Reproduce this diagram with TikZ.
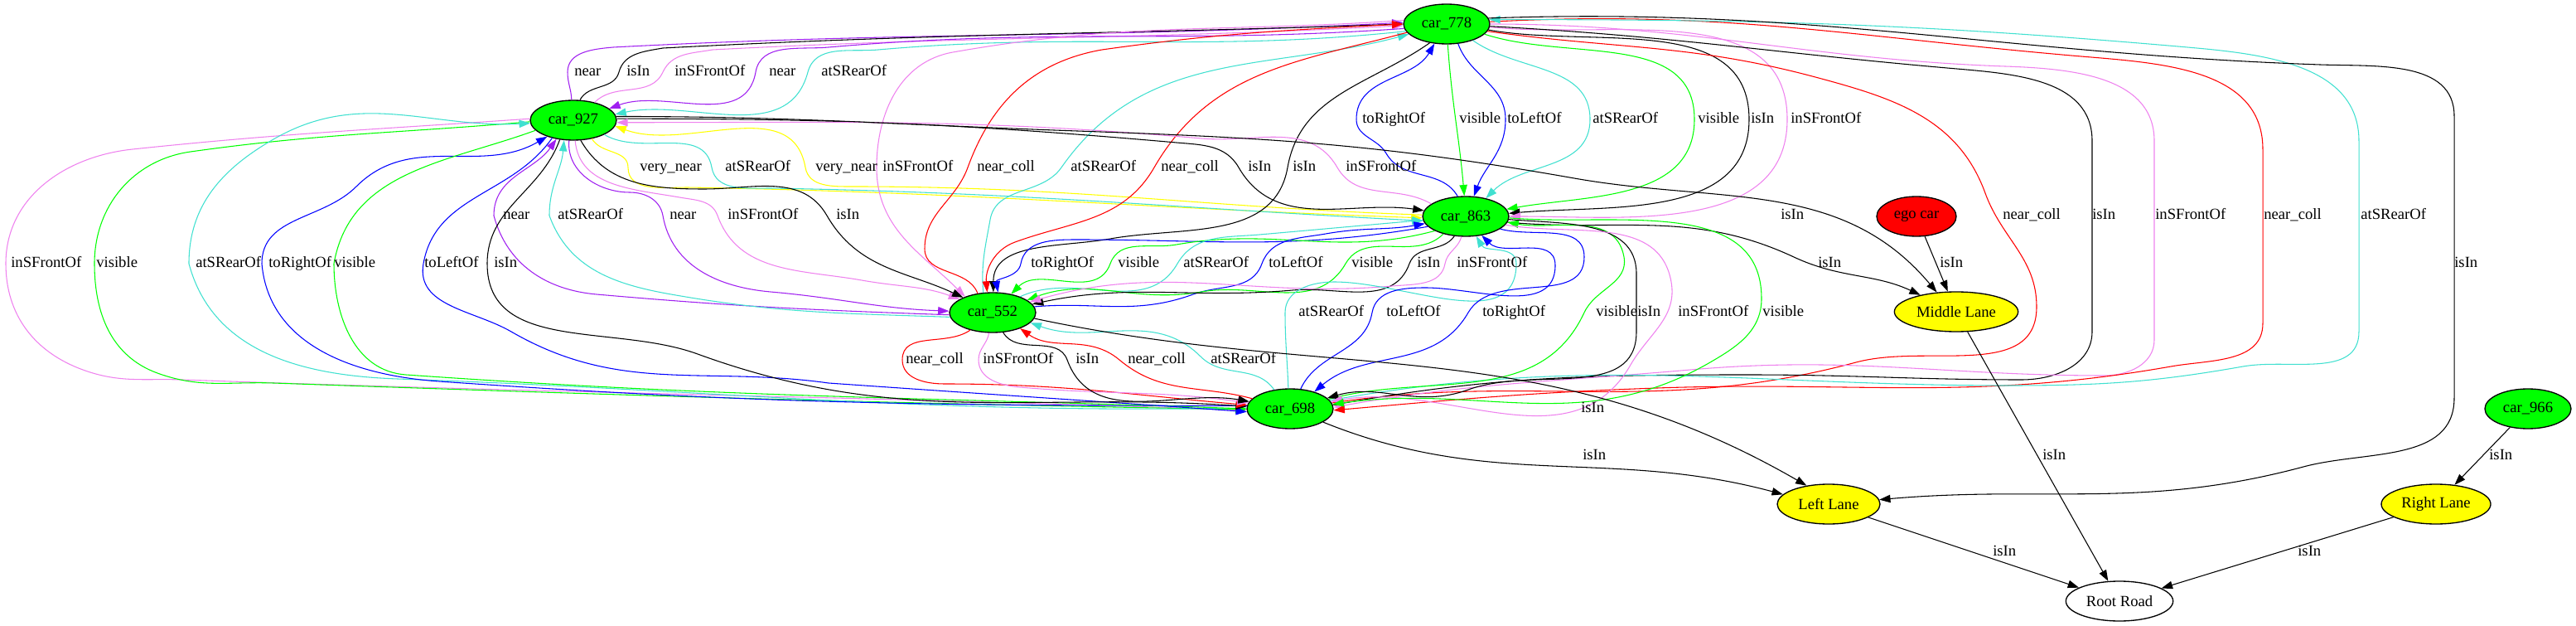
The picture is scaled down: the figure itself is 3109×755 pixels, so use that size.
\documentclass[tikz,border=0pt]{standalone}
\usepackage{fontspec}
\setmainfont{Liberation Serif}
\usetikzlibrary{shapes.geometric,arrows.meta}
\definecolor{gvpurple}{HTML}{A020F0}
\definecolor{gvviolet}{HTML}{EE82EE}
\definecolor{gvcyan}{HTML}{40E0D0}
\definecolor{gvgreen}{HTML}{00FF00}
\definecolor{gvblue}{HTML}{0000FF}
\definecolor{gvred}{HTML}{FF0000}
\definecolor{gvyellow}{HTML}{FFFF00}
\newcommand\glab[4]{\node[lbl] (#1) at (#2,-#3) {#4};}
\begin{document}
\begin{tikzpicture}[x=0.75pt,y=0.75pt,
  every node/.style={font=\fontsize{14}{16.8}\selectfont},
  gnode/.style={ellipse,draw=black,line width=1pt,inner sep=0pt,minimum height=36pt},
  car/.style={gnode,fill=gvgreen,minimum width=78pt},
  lbl/.style={inner sep=0pt,anchor=west,text height=9.5pt,text depth=2.5pt},
  ed/.style={line width=0.8pt,-{Triangle[length=10pt,width=7pt]}}]
\useasboundingbox (0,0) rectangle (3109,-755);
% nodes
\node[car] (c778) at (1746,-29) {car\_778};
\node[car] (c927) at (692,-145) {car\_927};
\node[car] (c863) at (1769,-261) {car\_863};
\node[car] (c552) at (1198,-377) {car\_552};
\node[car] (c698) at (1557,-493) {car\_698};
\node[car] (c966) at (3051,-493) {car\_966};
\node[gnode,fill=gvred,minimum width=72pt] (ego) at (2313,-261) {ego car};
\node[gnode,fill=gvyellow,minimum width=112pt] (ML) at (2361,-376) {Middle Lane};
\node[gnode,fill=gvyellow,minimum width=93pt] (LL) at (2207,-608) {Left Lane};
\node[gnode,fill=gvyellow,minimum width=99pt] (RL) at (2940,-608) {Right Lane};
\node[gnode,fill=white,minimum width=97pt] (RR) at (2558,-725) {Root Road};
% row 87
\draw[ed,gvpurple] (c927.95) to[out=92,in=-90] (685,-87) to[out=90,in=185] (740,-57) to[out=3,in=183] (c778.178);
\draw[ed,black] (c927.72) to[out=62,in=-105] (747,-87) to[out=75,in=190] (800,-58) to[out=3,in=182] (c778.180);
\draw[ed,gvviolet] (c927.40) to[out=45,in=-115] (800,-87) to[out=65,in=190] (860,-60) to[out=3,in=183] (c778.182);
\draw[ed,gvpurple] (c778.186) to[out=184,in=5] (1000,-57) to[out=185,in=80] (912,-87) to[out=-100,in=20] (c927.18);
\draw[ed,gvcyan] (c778.190) to[out=186,in=5] (1060,-60) to[out=185,in=75] (975,-87) to[out=-105,in=12] (c927.8);
% row 144
\draw[ed,gvblue] (c863.112) to[out=120,in=-60] (1673,-185) to[out=120,in=-90] (1637,-144) to[out=90,in=-120] (c778.238);
\draw[ed,gvgreen] (c778.273) to[out=-86,in=95] (c863.94);
\draw[ed,gvblue] (c778.300) to[out=-70,in=90] (1817,-144) to[out=-90,in=70] (c863.68);
\draw[ed,gvcyan] (c778.328) to[out=-35,in=90] (1919,-144) to[out=-90,in=45] (c863.42);
\draw[ed,gvgreen] (c778.345) to[out=-18,in=90] (2045,-144) to[out=-90,in=10] (c863.10);
\draw[ed,black] (c778.352) to[out=-10,in=90] (2111,-144) to[out=-90,in=5] (c863.4);
\draw[ed,gvviolet] (c778.356) to[out=-6,in=90] (2157,-144) to[out=-90,in=0] (c863.0);
% row 202
\draw[ed,gvyellow] (c927.315) to[out=-60,in=90] (758,-202) to[out=-90,in=180] (830,-226) to[out=-1,in=178] (c863.182);
\draw[ed,gvcyan] (c927.335) to[out=-30,in=100] (859,-202) to[out=-80,in=180] (930,-227) to[out=-1,in=177] (c863.186);
\draw[ed,gvyellow] (c863.178) to[out=178,in=0] (1030,-225) to[out=180,in=-80] (972,-202) to[out=100,in=-20] (c927.352);
\draw[ed,gvviolet] (c778.175) to[out=184,in=10] (1150,-63) to[out=190,in=90] (1058,-202) to[out=-90,in=135] (c552.150);
\draw[ed,gvred] (c552.128) to[out=110,in=-90] (1116,-300) to[out=90,in=-110] (1168,-202) to[out=70,in=190] (1330,-60) to[out=8,in=183] (c778.180);
\draw[ed,gvcyan] (c552.115) to[out=95,in=-100] (1195,-265) to[out=80,in=-125] (1281,-202) to[out=55,in=195] (c778.195);
\draw[ed,gvred] (c778.192) to[out=195,in=60] (1393,-202) to[out=-120,in=20] (1225,-292) to[out=200,in=95] (c552.105);
\draw[ed,black] (c927.2) to[out=0,in=175] (1420,-172) to[out=-5,in=120] (1495,-202) to[out=-60,in=172] (c863.172);
\draw[ed,black] (c778.228) to[out=215,in=80] (1554,-202) to[out=-100,in=10] (1340,-288) to[out=190,in=90] (c552.88);
\draw[ed,gvviolet] (c863.160) to[out=150,in=-60] (1614,-202) to[out=120,in=-5] (1450,-167) to[out=175,in=0] (c927.-3);
% row 260
\draw[ed,gvpurple] (c552.183) to[out=178,in=-5] (720,-355) to[out=175,in=-75] (596,-260) to[out=90,in=-125] (c927.228);
\draw[ed,gvcyan] (c552.186) to[out=178,in=-10] (810,-355) to[out=170,in=-70] (663,-260) to[out=90,in=-95] (c927.245);
\draw[ed,gvpurple] (c927.258) to[out=-95,in=180] (760,-232) to[out=0,in=100] (800,-260) to[out=-80,in=175] (930,-352) to[out=-5,in=178] (c552.178);
\draw[ed,gvviolet] (c927.275) to[out=-85,in=170] (820,-238) to[out=-10,in=110] (866,-260) to[out=-70,in=170] (1040,-338) to[out=-10,in=160] (c552.158);
\draw[ed,black] (c927.290) to[out=-60,in=180] (850,-228) to[out=0,in=120] (998,-260) to[out=-60,in=155] (c552.153);
\draw[ed,black] (c927.5) to[out=0,in=178] (1300,-158) to[out=-2,in=170] (1900,-215) to[out=-10,in=130] (ML.135);
\draw[ed,gvred] (c778.350) to[out=-8,in=165] (2191,-93) to[out=-15,in=110] (2396,-233) to[out=-70,in=90] (2458,-370) to[out=-90,in=15] (2240,-437) to[out=195,in=8] (c698.8);
\draw[ed,black] (c778.357) to[out=-3,in=175] (2350,-82) to[out=-5,in=90] (2525,-170) -- (2525,-400) to[out=-90,in=0] (2440,-458) to[out=180,in=0] (2110,-452) to[out=180,in=10] (c698.5);
\draw[ed,gvviolet] (c778.0) to[out=0,in=178] (2420,-80) to[out=-2,in=90] (2600,-170) -- (2600,-410) to[out=-90,in=0] (2540,-453) to[out=180,in=5] (2040,-446) to[out=185,in=10] (c698.2);
\draw[ed,gvred] (c778.3) to[out=3,in=175] (2500,-67) to[out=-5,in=90] (2731,-180) -- (2731,-390) to[out=-90,in=10] (2620,-442) to[out=190,in=2] (2000,-468) to[out=182,in=5] (c698.-2);
\draw[ed,gvcyan] (c698.12) to[out=10,in=180] (2424,-465) to[out=0,in=190] (2707,-442) to[out=10,in=-90] (2847,-400) -- (2847,-170) to[out=90,in=-5] (2640,-57) to[out=175,in=0] (c778.6);
% row 318 left
\draw[ed,gvviolet] (c927.178) to[out=184,in=6] (160,-180) to[out=186,in=90] (7,-318) to[out=-90,in=160] (100,-446) to[out=-20,in=178] (220,-458) to[out=-2,in=178] (c698.182);
\draw[ed,gvgreen] (c927.182) to[out=185,in=8] (230,-183) to[out=188,in=90] (114,-318) to[out=-90,in=160] (190,-450) to[out=-20,in=178] (330,-462) to[out=-2,in=179] (c698.181);
\draw[ed,gvcyan] (c698.179) to[out=181,in=-2] (480,-457) to[out=178,in=-75] (228,-318) to[out=90,in=210] (330,-168) to[out=30,in=183] (c927.184);
\draw[ed,gvblue] (c698.176) to[out=180,in=-4] (530,-460) to[out=176,in=-85] (316,-318) to[out=90,in=-135] (430,-225) to[out=45,in=-150] (c927.212);
\draw[ed,gvgreen] (c927.195) to[out=200,in=80] (403,-318) to[out=-90,in=176] (490,-452) to[out=-4,in=178] (c698.180);
\draw[ed,gvblue] (c927.220) to[out=235,in=80] (511,-318) to[out=-100,in=150] (617,-400) to[out=-30,in=172] (1000,-462) to[out=-4,in=176] (c698.184);
\draw[ed,black] (c927.235) to[out=250,in=90] (588,-318) to[out=-90,in=160] (842,-427) to[out=-20,in=176] (c698.177);
% row 318 middle
\draw[ed,gvblue] (c863.195) to[out=190,in=0] (1300,-289) to[out=180,in=80] (1232,-318) to[out=-100,in=100] (c552.75);
\draw[ed,gvgreen] (c863.205) to[out=195,in=10] (1420,-295) to[out=190,in=70] (1340,-318) to[out=-110,in=45] (c552.45);
\draw[ed,gvcyan] (c552.30) to[out=25,in=-120] (1421,-318) to[out=60,in=185] (1520,-283) to[out=5,in=185] (c863.185);
\draw[ed,gvblue] (c552.8) to[out=5,in=200] (1440,-355) to[out=20,in=-110] (1523,-318) to[out=70,in=190] (1600,-282) to[out=10,in=190] (c863.190);
\draw[ed,gvgreen] (c863.218) to[out=225,in=60] (1624,-318) to[out=-120,in=10] (1450,-352) to[out=190,in=20] (c552.20);
\draw[ed,black] (c863.240) to[out=235,in=70] (1701,-318) to[out=-110,in=5] (1560,-350) to[out=185,in=12] (c552.12);
\draw[ed,gvviolet] (c863.258) to[out=255,in=80] (1744,-318) to[out=-100,in=5] (1680,-345) to[out=185,in=16] (c552.16);
% row 318 right
\draw[ed,black] (c863.352) to[out=-5,in=155] (2165,-310) to[out=-25,in=155] (ML.155);
\draw[ed,black] (ego) -- (ML);
\draw[ed,black] (c778.8) to[out=2,in=178] (2800,-78) to[out=-2,in=90] (2962,-140) -- (2962,-480) to[out=-90,in=15] (2780,-563) to[out=195,in=5] (LL.5);
% row 377
\draw[ed,gvcyan] (c698.95) to[out=92,in=-90] (1551,-377) to[out=90,in=180] (1610,-340) to[out=0,in=-90] (1830,-318) to[out=90,in=-60] (c863.-62);
\draw[ed,gvblue] (c698.62) to[out=65,in=-100] (1656,-377) to[out=80,in=180] (1720,-347) to[out=0,in=-90] (1877,-320) to[out=90,in=-45] (c863.-50);
\draw[ed,gvblue] (c863.-20) to[out=-15,in=90] (1912,-310) to[out=-90,in=60] (1772,-377) to[out=-120,in=40] (c698.35);
\draw[ed,gvgreen] (c698.14) to[out=15,in=-115] (1912,-377) to[out=65,in=-80] (1960,-310) to[out=100,in=-10] (c863.-8);
\draw[ed,black] (c863.-4) to[out=-5,in=90] (1975,-330) -- (1975,-400) to[out=-90,in=20] (1772,-470) to[out=200,in=16] (c698.16);
\draw[ed,gvviolet] (c863.-12) to[out=-10,in=100] (2017,-340) to[out=-80,in=60] (1968,-440) to[out=240,in=10] (c698.10);
\draw[ed,gvgreen] (c863.-2) to[out=-5,in=90] (2126,-360) to[out=-90,in=30] (2064,-437) to[out=210,in=8] (c698.6);
% row 434
\draw[ed,gvred] (c552.218) to[out=215,in=90] (1089,-434) to[out=-90,in=180] (1140,-463) to[out=0,in=175] (c698.175);
\draw[ed,gvviolet] (c552.260) to[out=260,in=90] (1181,-434) to[out=-90,in=175] (1231,-467) to[out=-5,in=172] (c698.172);
\draw[ed,black] (c552.298) to[out=-60,in=110] (1288,-434) to[out=-70,in=170] (c698.170);
\draw[ed,gvred] (c698.165) to[out=165,in=-40] (1351,-434) to[out=140,in=-35] (c552.-30);
\draw[ed,gvcyan] (c698.130) to[out=125,in=-45] (1449,-430) to[out=135,in=-20] (c552.-15);
% lower
\draw[ed,black] (c552.-8) to[out=-12,in=150] (LL.140);
\draw[ed,black] (c698.-22) to[out=-22,in=165] (LL.168);
\draw[ed,black] (ML) -- (RR);
\draw[ed,black] (LL) -- (RR);
\draw[ed,black] (RL) -- (RR);
\draw[ed,black] (c966) -- (RL);
% labels
\glab{la1}{693}{87}{near}\glab{la2}{756}{87}{isIn}\glab{la3}{814}{87}{inSFrontOf}\glab{la4}{928}{87}{near}\glab{la5}{991}{87}{atSRearOf}
\glab{lb1}{1644}{144}{toRightOf}\glab{lb2}{1761}{144}{visible}\glab{lb3}{1819}{144}{toLeftOf}\glab{lb4}{1922}{144}{atSRearOf}\glab{lb5}{2049}{144}{visible}\glab{lb6}{2113}{144}{isIn}\glab{lb7}{2161}{144}{inSFrontOf}
\glab{lc1}{772}{202}{very\_near}\glab{lc2}{875}{202}{atSRearOf}\glab{lc3}{984}{202}{very\_near}\glab{lc4}{1065}{202}{inSFrontOf}\glab{lc5}{1179}{202}{near\_coll}\glab{lc6}{1292}{202}{atSRearOf}\glab{lc7}{1401}{202}{near\_coll}\glab{lc8}{1506}{202}{isIn}\glab{lc9}{1560}{202}{isIn}\glab{lc10}{1624}{202}{inSFrontOf}
\glab{ld1}{607}{260}{near}\glab{ld2}{673}{260}{atSRearOf}\glab{ld3}{808}{260}{near}\glab{ld4}{878}{260}{inSFrontOf}\glab{ld5}{1009}{260}{isIn}\glab{ld6}{2149}{260}{isIn}\glab{ld7}{2417}{260}{near\_coll}\glab{ld8}{2525}{260}{isIn}\glab{ld9}{2601}{260}{inSFrontOf}\glab{ld10}{2732}{260}{near\_coll}\glab{ld11}{2849}{260}{atSRearOf}
\glab{le1}{13}{318}{inSFrontOf}\glab{le2}{116}{318}{visible}\glab{le3}{236}{318}{atSRearOf}\glab{le4}{324}{318}{toRightOf}\glab{le5}{403}{318}{visible}\glab{le6}{512}{318}{toLeftOf}\glab{le7}{596}{318}{isIn}
\glab{lf1}{1244}{318}{toRightOf}\glab{lf2}{1349}{318}{visible}\glab{lf3}{1428}{318}{atSRearOf}\glab{lf4}{1531}{318}{toLeftOf}\glab{lf5}{1631}{318}{visible}\glab{lf6}{1710}{318}{isIn}\glab{lf7}{1758}{318}{inSFrontOf}
\glab{lf8}{2194}{318}{isIn}\glab{lf9}{2341}{318}{isIn}\glab{lf10}{2962}{318}{isIn}
\glab{lg1}{1567}{377}{atSRearOf}\glab{lg2}{1673}{377}{toLeftOf}\glab{lg3}{1789}{377}{toRightOf}\glab{lg4}{1926}{377}{visible}\glab{lg5}{1976}{377}{isIn}\glab{lg6}{2025}{377}{inSFrontOf}\glab{lg7}{2127}{377}{visible}
\glab{lh1}{1093}{434}{near\_coll}\glab{lh2}{1186}{434}{inSFrontOf}\glab{lh3}{1298}{434}{isIn}\glab{lh4}{1361}{434}{near\_coll}\glab{lh5}{1461}{434}{atSRearOf}
\glab{li1}{1908}{493}{isIn}\glab{li2}{1910}{550}{isIn}\glab{li3}{2465}{550}{isIn}\glab{li4}{3004}{550}{isIn}
\glab{li5}{2405}{666}{isIn}\glab{li6}{2773}{666}{isIn}
\end{tikzpicture}
\end{document}
